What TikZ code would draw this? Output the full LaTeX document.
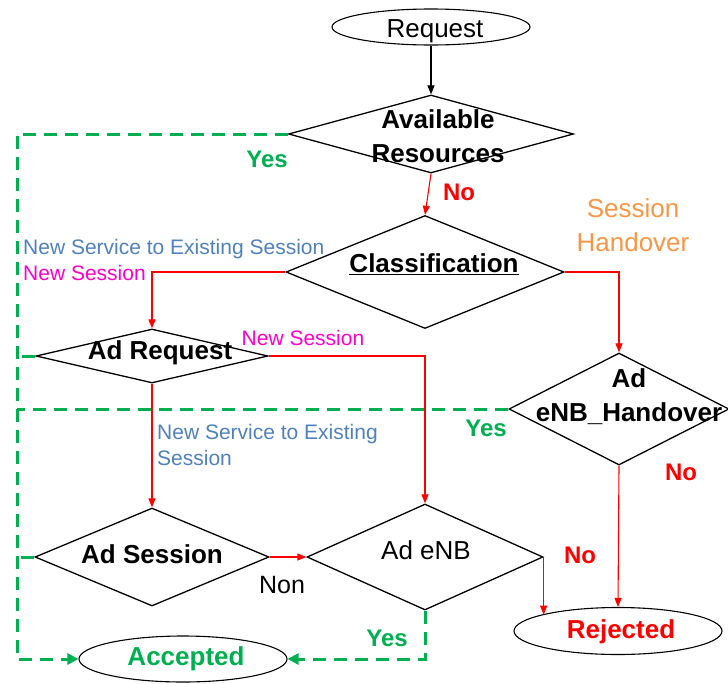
\documentclass[tikz,border=0pt]{standalone}
\usepackage{fontspec}
\setmainfont{Liberation Sans}
\usepackage{tikz}
\usetikzlibrary{shapes.geometric,arrows.meta}

\definecolor{yesGreen}{RGB}{0,176,80}
\definecolor{noRed}{RGB}{255,0,0}
\definecolor{svcBlue}{RGB}{79,129,189}
\definecolor{sessPink}{RGB}{255,0,204}
\definecolor{hoOrange}{RGB}{247,150,70}

\tikzset{
  decision/.style={diamond,draw,line width=1.3pt,inner sep=0pt},
  terminal/.style={ellipse,draw,line width=1.1pt,inner sep=0pt},
  boldText/.style={inner sep=0pt,align=center,font=\fontsize{26}{34}\selectfont\bfseries},
  plainText/.style={inner sep=0pt,align=center,font=\fontsize{26}{34}\selectfont},
  smallLbl/.style={inner sep=0pt,align=left,font=\fontsize{21}{26}\selectfont},
  yesLbl/.style={inner sep=0pt,text=yesGreen,font=\fontsize{24}{28}\selectfont\bfseries},
  noLbl/.style={inner sep=0pt,text=noRed,font=\fontsize{24}{28}\selectfont\bfseries},
  blackArrow/.style={draw,line width=1.2pt,-{Triangle[length=9pt,width=7pt]}},
  redArrow/.style={draw=noRed,line width=1.1pt,-{Triangle[length=9pt,width=7pt]}},
  yesLine/.style={draw=yesGreen,line width=3pt,dash pattern=on 13pt off 8pt},
  yesArrow/.style={yesLine,-{Triangle[length=11pt,width=11pt]}}
}

\begin{document}
\begin{tikzpicture}[x=1pt,y=-1pt]
\useasboundingbox (0,0) rectangle (728,683);

\node[terminal,minimum width=198pt,minimum height=36pt] (req) at (431,27) {};
\node[decision,minimum width=285pt,minimum height=78pt] (avail) at (431,134) {};
\node[decision,minimum width=278pt,minimum height=113pt] (class) at (425,272) {};
\node[decision,minimum width=232pt,minimum height=54pt] (adReq) at (152,356) {};
\node[decision,minimum width=220pt,minimum height=112pt] (adHo) at (619,409) {};
\node[decision,minimum width=234pt,minimum height=98pt] (adSess) at (152,557) {};
\node[decision,minimum width=236pt,minimum height=106pt] (adEnb) at (425,557) {};
\node[terminal,minimum width=208pt,minimum height=46pt] (acc) at (183,659) {};
\node[terminal,minimum width=208pt,minimum height=47pt] (rej) at (618,631) {};

\node[plainText] (reqTxt) at (435,31) {Request};
\node[boldText] (availTxt) at (438,136) {Available\\Resources};
\node[boldText] (classTxt) at (434,264) {\underline{Classification}};
\node[boldText] (adReqTxt) at (160,353) {Ad Request};
\node[boldText] (adHoTxt) at (629,397) {Ad\\eNB\_Handover};
\node[boldText] (adSessTxt) at (152,554) {Ad Session};
\node[plainText] (adEnbTxt) at (426,550) {Ad eNB};
\node[boldText,text=yesGreen] (accTxt) at (186,659) {Accepted};
\node[boldText,text=noRed] (rejTxt) at (621,632) {Rejected};

\draw[blackArrow] (req.south) -- (avail.north);
\draw[redArrow] (avail.south) -- (class.north);
\draw[redArrow] (class.west) -| (adReq.north);
\draw[redArrow] (class.east) -| (adHo.north);
\draw[redArrow] (adReq.south) -- (adSess.north);
\draw[redArrow] (adReq.east) -| (adEnb.north);
\draw[redArrow] (adSess.east) -- (adEnb.west);
\draw[redArrow] (adEnb.east) -- (adEnb.east |- rej.168);
\draw[redArrow] (adHo.south) -- (rej.north);

\coordinate (busTop) at (17,134);
\coordinate (busBot) at (busTop |- acc.west);
\draw[yesArrow] (avail.west) -- (busTop) -- (busBot) -- (acc.west);
\draw[yesLine] (adHo.west) -- (adHo.west -| busTop);
\draw[yesLine] (adReq.west) -- (adReq.west -| busTop);
\draw[yesLine] (adSess.west) -- (adSess.west -| busTop);
\draw[yesArrow] (adEnb.south) |- (acc.east);

\node[yesLbl] (yesAvail) at (267,159) {Yes};
\node[noLbl] (noAvail) at (459,192) {No};
\node[plainText,text=hoOrange] (hoLbl) at (633,225) {Session\\Handover};
\node[smallLbl,text=svcBlue,anchor=west] (svcLbl) at (23,249) {New Service to Existing Session};
\node[smallLbl,text=sessPink,anchor=west] (sessLbl) at (23,273) {New Session};
\node[smallLbl,text=sessPink] (sessLblB) at (303,338) {New Session};
\node[smallLbl,text=svcBlue,anchor=north west] (svcLblB) at (157,424) {New Service to Existing\\Session};
\node[yesLbl] (yesHo) at (486,428) {Yes};
\node[noLbl] (noHo) at (681,472) {No};
\node[noLbl] (noEnb) at (580,555) {No};
\node[plainText,font=\fontsize{25}{30}\selectfont] (nonLbl) at (282,585) {Non};
\node[yesLbl] (yesEnb) at (387,638) {Yes};
\end{tikzpicture}
\end{document}
